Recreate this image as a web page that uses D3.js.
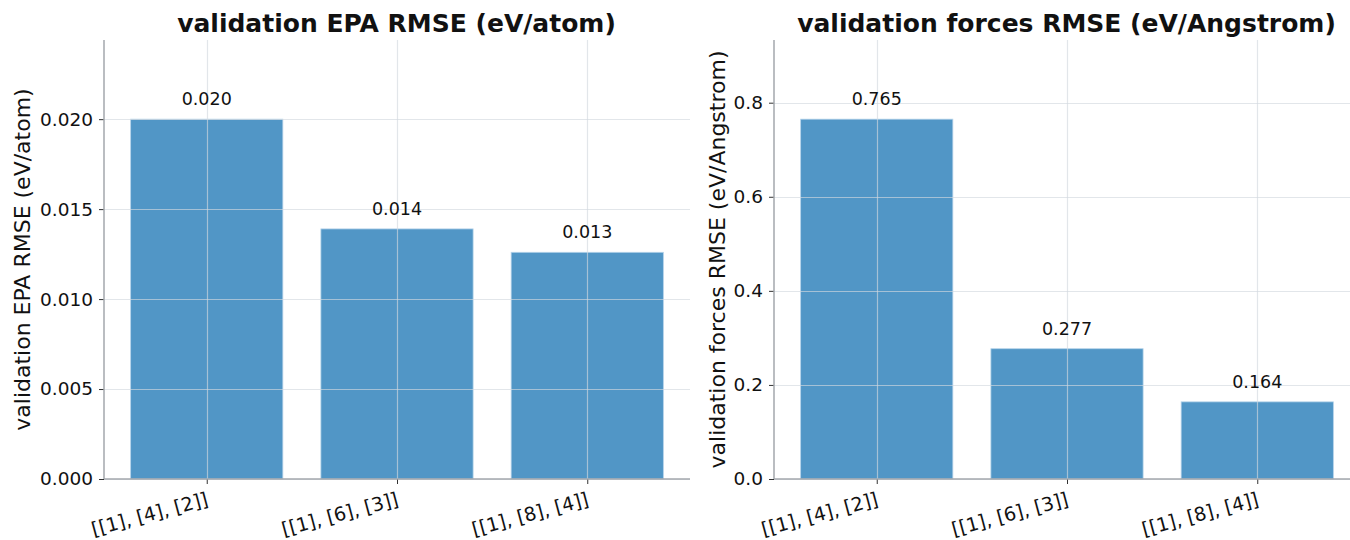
<!DOCTYPE html>
<html>
<head>
<meta charset="utf-8">
<script src="https://cdn.jsdelivr.net/npm/d3@7"></script>
<style>
  body { margin: 0; background: #fff; }
  svg { display: block; font-family: 'DejaVu Sans', sans-serif; }
</style>
</head>
<body>
<svg id="chart" width="1350" height="540"></svg>
<script>
var categories = ['[[1], [4], [2]]', '[[1], [6], [3]]', '[[1], [8], [4]]']
var epaValues = [0.0200, 0.0139, 0.0126]
var forceValues = [0.765, 0.277, 0.164]
var epaTicks = [0, 0.005, 0.010, 0.015, 0.020]
var forceTicks = [0, 0.2, 0.4, 0.6, 0.8]

var panels = [
  { title: 'validation EPA RMSE (eV/atom)', ylabel: 'validation EPA RMSE (eV/atom)',
    values: epaValues, ticks: epaTicks, fmt: d3.format('.3f'), tickFmt: d3.format('.3f'),
    left: 104, right: 690, labelOffset: 82 },
  { title: 'validation forces RMSE (eV/Angstrom)', ylabel: 'validation forces RMSE (eV/Angstrom)',
    values: forceValues, ticks: forceTicks, fmt: d3.format('.3f'), tickFmt: d3.format('.1f'),
    left: 774, right: 1360, labelOffset: 57 }
]

var plotTop = 40
var plotBottom = 479
var barColor = '#5196c6'
var spineColor = '#a3a7ac'

var svg = d3.select('#chart')

panels.forEach(function (p) {
  var g = svg.append('g')

  // matplotlib style: bars at 0..n-1, width 0.8, margins 0.05
  var x = d3.scaleLinear()
    .domain([-0.54, categories.length - 1 + 0.54])
    .range([p.left, p.right])
  var y = d3.scaleLinear()
    .domain([0, d3.max(p.values) * 1.22])
    .range([plotBottom, plotTop])

  g.selectAll('rect.bar')
    .data(p.values)
    .join('rect')
    .attr('class', 'bar')
    .attr('x', (d, i) => x(i - 0.4))
    .attr('width', (d, i) => x(i + 0.4) - x(i - 0.4))
    .attr('y', (d) => y(d))
    .attr('height', (d) => y(0) - y(d))
    .attr('fill', barColor)
    .attr('stroke', '#b5d3ea')
    .attr('stroke-width', 0.8)

  // grid drawn on top of bars, semi-transparent
  var grid = g.append('g').attr('stroke', '#d2d8df').attr('stroke-opacity', 0.65).attr('stroke-width', 1.2)
  grid.selectAll('line.h')
    .data(p.ticks)
    .join('line')
    .attr('class', 'h')
    .attr('x1', p.left).attr('x2', p.right)
    .attr('y1', (d) => Math.round(y(d)) + 0.5).attr('y2', (d) => Math.round(y(d)) + 0.5)
  grid.selectAll('line.v')
    .data(categories)
    .join('line')
    .attr('class', 'v')
    .attr('x1', (d, i) => Math.round(x(i)) + 0.5).attr('x2', (d, i) => Math.round(x(i)) + 0.5)
    .attr('y1', plotTop).attr('y2', plotBottom)

  // y axis
  var yAxis = d3.axisLeft(y).tickValues(p.ticks).tickFormat(p.tickFmt).tickSize(5).tickPadding(6)
  var ya = g.append('g').attr('transform', 'translate(' + p.left + ',0)').call(yAxis)
  ya.select('.domain').remove()
  ya.selectAll('.tick line').attr('stroke', '#333')
  ya.selectAll('.tick text').attr('font-size', 18.5).attr('fill', '#111').attr('font-family', 'DejaVu Sans')

  // x axis, labels rotated like rotation=15, ha='right'
  var xAxis = d3.axisBottom(x).tickValues(d3.range(categories.length))
    .tickFormat((i) => categories[i]).tickSize(5).tickPadding(6)
  var xa = g.append('g').attr('transform', 'translate(0,' + plotBottom + ')').call(xAxis)
  xa.select('.domain').remove()
  xa.selectAll('.tick line').attr('stroke', '#333')
  xa.selectAll('.tick text')
    .attr('font-size', 19).attr('fill', '#111').attr('font-family', 'DejaVu Sans')
    .attr('text-anchor', 'end')
    .attr('dy', null)
    .attr('y', 0)
    .attr('transform', 'translate(2,26) rotate(-15)')

  // spines
  g.append('line').attr('x1', p.left).attr('x2', p.left).attr('y1', plotTop).attr('y2', plotBottom)
    .attr('stroke', spineColor).attr('stroke-width', 1.5)
  g.append('line').attr('x1', p.left).attr('x2', p.right).attr('y1', plotBottom).attr('y2', plotBottom)
    .attr('stroke', spineColor).attr('stroke-width', 1.5)

  // value labels
  g.selectAll('text.val')
    .data(p.values)
    .join('text')
    .attr('class', 'val')
    .attr('x', (d, i) => x(i))
    .attr('y', (d) => y(d) - 14)
    .attr('text-anchor', 'middle')
    .attr('font-size', 17.5)
    .attr('fill', '#111')
    .text(p.fmt)

  // title
  g.append('text')
    .attr('x', (p.left + p.right) / 2 - 0.5)
    .attr('y', 32)
    .attr('text-anchor', 'middle')
    .attr('font-size', 25)
    .attr('font-weight', 'bold')
    .attr('fill', '#111')
    .text(p.title)

  // y label
  g.append('text')
    .attr('transform', 'translate(' + (p.left - p.labelOffset) + ',' + ((plotTop + plotBottom) / 2) + ') rotate(-90)')
    .attr('text-anchor', 'middle')
    .attr('dy', '0.35em')
    .attr('font-size', 22)
    .attr('fill', '#111')
    .text(p.ylabel)
})
</script>
</body>
</html>
